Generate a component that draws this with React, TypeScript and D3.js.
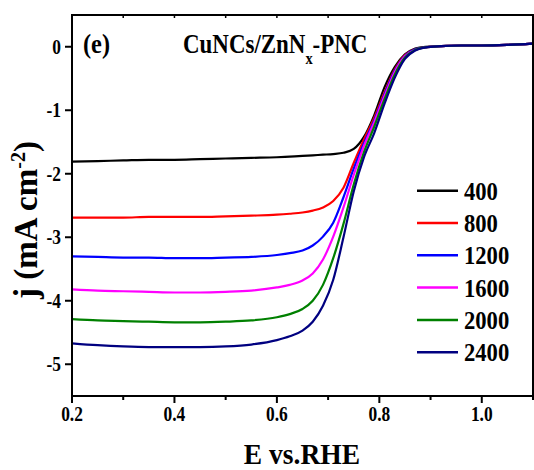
import React, { useEffect, useRef } from "react";
import * as d3 from "d3";

// potential grid (V vs RHE)
const potentials = [
  0.2, 0.25, 0.3, 0.35, 0.4, 0.45, 0.5, 0.55, 0.6, 0.625, 0.65, 0.67, 0.69, 0.71,
  0.73, 0.75, 0.77, 0.79, 0.81, 0.83, 0.85, 0.87, 0.89, 0.92, 0.96, 1.0, 1.05, 1.1,
];

// current density (mA cm-2) per rotation rate
const rpm400 = [
  -1.81, -1.8, -1.79, -1.78, -1.78, -1.77, -1.76, -1.75, -1.74, -1.73, -1.72, -1.71, -1.7, -1.69,
  -1.67, -1.61, -1.42, -1.08, -0.64, -0.32, -0.12, -0.03, 0.0, 0.01, 0.02, 0.02, 0.03, 0.05,
];
const rpm800 = [
  -2.69, -2.69, -2.69, -2.68, -2.68, -2.68, -2.67, -2.66, -2.645, -2.63, -2.61, -2.58, -2.53, -2.43,
  -2.22, -1.83, -1.46, -1.12, -0.72, -0.36, -0.13, -0.04, -0.01, 0.01, 0.02, 0.02, 0.03, 0.05,
];
const rpm1200 = [
  -3.3, -3.31, -3.32, -3.32, -3.33, -3.33, -3.32, -3.31, -3.28, -3.25, -3.21, -3.13, -2.99, -2.77,
  -2.37, -1.92, -1.52, -1.16, -0.75, -0.38, -0.14, -0.04, -0.01, 0.01, 0.02, 0.02, 0.03, 0.05,
];
const rpm1600 = [
  -3.82, -3.84, -3.85, -3.86, -3.87, -3.87, -3.86, -3.84, -3.79, -3.75, -3.68, -3.57, -3.35, -2.99,
  -2.53, -2.02, -1.56, -1.19, -0.78, -0.4, -0.15, -0.05, -0.01, 0.01, 0.02, 0.02, 0.03, 0.05,
];
const rpm2000 = [
  -4.29, -4.31, -4.32, -4.33, -4.34, -4.34, -4.33, -4.31, -4.26, -4.21, -4.13, -4.0, -3.75, -3.33,
  -2.79, -2.17, -1.66, -1.26, -0.83, -0.44, -0.17, -0.05, -0.01, 0.01, 0.02, 0.02, 0.03, 0.05,
];
const rpm2400 = [
  -4.67, -4.7, -4.72, -4.73, -4.73, -4.73, -4.72, -4.69, -4.62, -4.56, -4.47, -4.33, -4.08, -3.67,
  -3.0, -2.28, -1.74, -1.36, -0.9, -0.49, -0.19, -0.06, -0.01, 0.01, 0.02, 0.02, 0.03, 0.05,
];

const labels = ["400", "800", "1200", "1600", "2000", "2400"];
const colors = ["#000000", "#ff0000", "#0000ff", "#ff00ff", "#008000", "#000080"];
const curves = [rpm400, rpm800, rpm1200, rpm1600, rpm2000, rpm2400];

const xTicks = [0.2, 0.4, 0.6, 0.8, 1.0];
const yTicks = [0, -1, -2, -3, -4, -5];

const FONT = '"Liberation Serif", "DejaVu Serif", serif';
const SQ = 0.87; // glyphs in the figure are squeezed horizontally

function App() {
  const chart = useRef(null);

  function drawChart() {
    var left = 72,
      top = 15,
      right = 533,
      bottom = 396;

    var x = d3.scaleLinear().domain([0.2, 1.1]).range([left, right]);
    var y = d3.scaleLinear().domain([-5.5, 0.5]).range([bottom, top]);

    var svg = d3
      .select(chart.current)
      .append("svg")
      .attr("width", 534)
      .attr("height", 470)
      .style("display", "block");

    // all labels share the same bold serif face
    function label(parent, size) {
      return parent
        .append("text")
        .style("font-family", FONT)
        .style("font-weight", "700")
        .style("font-size", size + "px");
    }

    var line = d3
      .line()
      .x((d) => x(d[0]))
      .y((d) => y(d[1]))
      .curve(d3.curveMonotoneX);

    var clip = svg.append("clipPath").attr("id", "plot");
    clip
      .append("rect")
      .attr("x", left)
      .attr("y", top)
      .attr("width", right - left)
      .attr("height", bottom - top);

    var plot = svg.append("g").attr("clip-path", "url(#plot)");
    curves.forEach((vals, i) => {
      plot
        .append("path")
        .attr("d", line(potentials.map((p, k) => [p, vals[k]])))
        .attr("fill", "none")
        .attr("stroke", colors[i])
        .attr("stroke-width", 2.2);
    });

    // frame
    svg
      .append("rect")
      .attr("x", left)
      .attr("y", top)
      .attr("width", right - left)
      .attr("height", bottom - top)
      .attr("fill", "none")
      .attr("stroke", "#000")
      .attr("stroke-width", 2);

    // x ticks (major + minor), bottom outward, top inward
    d3.range(0.2, 1.1001, 0.1).forEach((v, i) => {
      var major = i % 2 === 0;
      svg
        .append("line")
        .attr("x1", x(v))
        .attr("x2", x(v))
        .attr("y1", bottom)
        .attr("y2", bottom + (major ? 7 : 4))
        .attr("stroke", "#000")
        .attr("stroke-width", 2);
      svg
        .append("line")
        .attr("x1", x(v))
        .attr("x2", x(v))
        .attr("y1", top)
        .attr("y2", top + 3)
        .attr("stroke", "#000")
        .attr("stroke-width", 1.5);
    });

    xTicks.forEach((v) => {
      label(svg, 20)
        .attr("transform", `translate(${x(v)},421) scale(${SQ},1)`)
        .attr("text-anchor", "middle")
        .text(d3.format(".1f")(v));
    });

    yTicks.forEach((v) => {
      svg
        .append("line")
        .attr("x1", left - 7)
        .attr("x2", left)
        .attr("y1", y(v))
        .attr("y2", y(v))
        .attr("stroke", "#000")
        .attr("stroke-width", 2);
      label(svg, 20)
        .attr("transform", `translate(61,${y(v) + 7}) scale(${SQ},1)`)
        .attr("text-anchor", "end")
        .text(v);
    });

    // axis titles
    label(svg, 29)
      .attr("transform", `translate(302,464) scale(0.95,1)`)
      .attr("text-anchor", "middle")
      .text("E vs.RHE");

    var yt = label(svg, 33)
      .attr("transform", "translate(37,220) rotate(-90)")
      .attr("text-anchor", "middle");
    yt.append("tspan").text("j (mA cm");
    yt.append("tspan").attr("dy", -12).style("font-size", "20px").text("-2");
    yt.append("tspan").attr("dy", 12).text(")");

    // panel label and sample name
    label(svg, 28)
      .attr("transform", `translate(83,53) scale(${SQ},1)`)
      .text("(e)");

    var name = label(svg, 27).attr("transform", `translate(183,53) scale(0.85,1)`);
    name.append("tspan").text("CuNCs/ZnN");
    name.append("tspan").attr("dy", 11).style("font-size", "17px").text("x");
    name.append("tspan").attr("dy", -11).text("-PNC");

    // legend
    var legend = svg
      .selectAll(".legend")
      .data(labels)
      .enter()
      .append("g")
      .attr("class", "legend");

    legend
      .append("line")
      .attr("x1", 417)
      .attr("x2", 458)
      .attr("y1", (d, i) => 190.7 + i * 32.3)
      .attr("y2", (d, i) => 190.7 + i * 32.3)
      .attr("stroke", (d, i) => colors[i])
      .attr("stroke-width", 2.5);

    legend.each(function (d, i) {
      label(d3.select(this), 26)
        .attr("transform", `translate(464,${190.7 + i * 32.3 + 9}) scale(${SQ},1)`)
        .text(d);
    });
  }

  useEffect(() => {
    if (chart.current && chart.current.childNodes.length === 0) drawChart();
  }, []);

  return (
    <div
      ref={chart}
      style={{ position: "absolute", left: 0, top: 0, width: 534, height: 470, background: "#fff" }}
    ></div>
  );
}

export default App;
